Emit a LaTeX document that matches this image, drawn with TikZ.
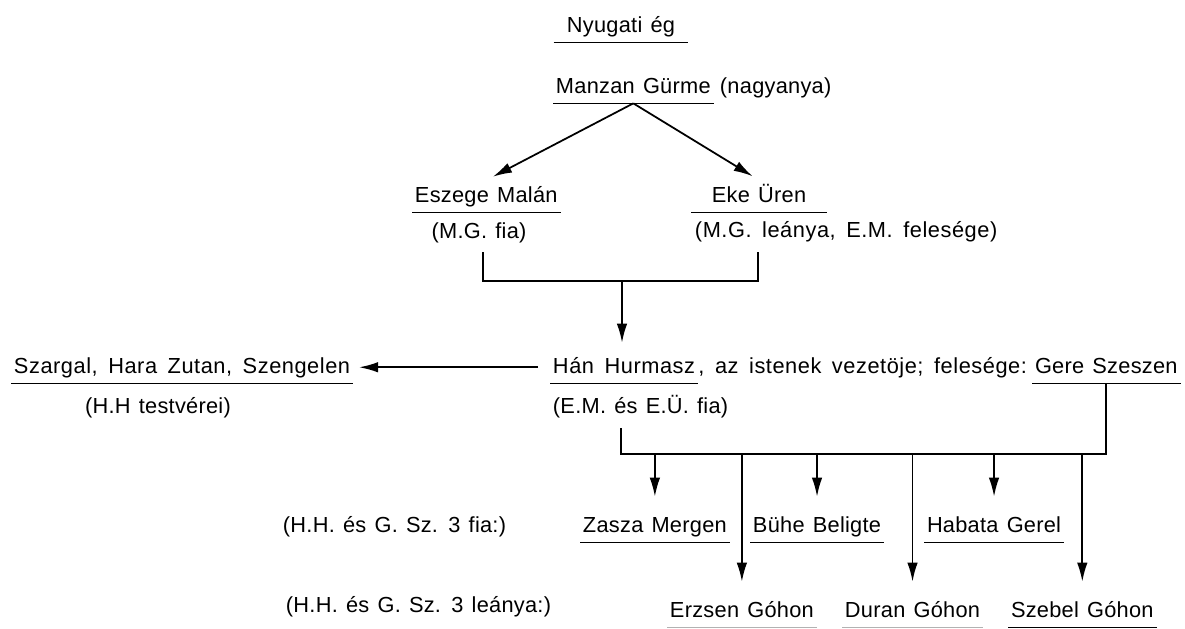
\documentclass[tikz,border=0pt]{standalone}
\usepackage{fontspec}
\setmainfont{Liberation Sans}[LetterSpace=1.2, WordSpace=1.3]
\newfontfamily\widefont{Liberation Sans}[LetterSpace=2.5, WordSpace=1.6]
\usetikzlibrary{arrows.meta, positioning}

\begin{document}
\begin{tikzpicture}[x=0.2mm, y=-0.2mm, every node/.style={font=\fontsize{12.4}{14}\selectfont, inner xsep=1.5pt, inner ysep=0.1cm, text height=0.33cm, text depth=0.1cm}]
\tikzstyle{person} = [anchor=base west]
\tikzstyle{wide} = [font=\widefont\fontsize{12.4}{14}\selectfont]
\tikzstyle{ul} = [line width=0.8pt]
\tikzstyle{link} = [line width=1pt]
\tikzstyle{arr} = [line width=1pt, -{Latex[length=3.8mm, width=2.1mm]}]

\useasboundingbox (0,0) rectangle (1185,628);

\node[anchor=base, minimum width=2.68cm] (sky) at (621,32) {Nyugati ég};
\node[person] (mg) at (553,93) {Manzan Gürme};
\node[person] (mgnote) at (717,93) {(nagyanya)};

\node[person] (em) at (412,202) {Eszege Malán};
\node[anchor=base] (emfia) at (479,238) {(M.G. fia)};
\node[anchor=base, minimum width=2.7cm] (eu) at (759,202) {Eke Üren};
\node[person, wide] (eufia) at (692,237) {(M.G. leánya, E.M. felesége)};

\node[person, wide] (hh) at (550,373) {Hán Hurmasz};
\node[base right=0pt of hh, inner xsep=0pt, wide] (hhmid) {, az istenek vezetöje; felesége:};
\node[person] (gs) at (1032,373) {Gere Szeszen};
\node[person] (hhfia) at (550,413) {(E.M. és E.Ü. fia)};

\node[person, wide] (sz) at (11,373) {Szargal, Hara Zutan, Szengelen};
\node[anchor=base] (szfia) at (158,413) {(H.H testvérei)};

\node[person] (sons) at (280,532) {(H.H. és G. Sz. 3 fia:)};
\node[person] (zm) at (580,532) {Zasza Mergen};
\node[person] (bb) at (750,532) {Bühe Beligte};
\node[person] (hg) at (924,532) {Habata Gerel};

\node[person] (daughters) at (283,612) {(H.H. és G. Sz. 3 leánya:)};
\node[person] (eg) at (667,617) {Erzsen Góhon};
\node[person] (dg) at (842,617) {Duran Góhon};
\node[person] (szg) at (1008,617) {Szebel Góhon};

\coordinate (jl) at (483,252);
\coordinate (jr) at (758,252);
\coordinate (jm) at (622,281);
\coordinate (kl) at (621,428);
\coordinate (kb) at (621,454);

\draw[ul] (sky.south west) -- (sky.south east);
\draw[ul] (mg.south west) -- (mg.south east);
\draw[ul] (em.south west) -- (em.south east);
\draw[ul] (eu.south west) -- (eu.south east);
\draw[ul] (hh.south west) -- (hh.south east);
\draw[ul] (gs.south west) -- (gs.south east);
\draw[ul] (sz.south west) -- (sz.south east);
\draw[ul] (zm.south west) -- (zm.south east);
\draw[ul] (bb.south west) -- (bb.south east);
\draw[ul] (hg.south west) -- (hg.south east);
\draw[ul, black!30] (eg.south west) -- (eg.south east);
\draw[ul, black!30] (dg.south west) -- (dg.south east);
\draw[ul] (szg.south west) -- (szg.south east);

\draw[arr, shorten >=1.5mm] (mg.south) -- (em.north);
\draw[arr, shorten >=1.5mm] (mg.south) -- (eu.north);

\draw[link] (jl) |- (jm) -| (jr);
\draw[arr, shorten >=1.7mm] (jm) -- (jm |- hh.north);

\draw[arr, shorten <=2.4mm, shorten >=1.2mm] (hh.west) -- (sz.east);

\draw[link] (kl) -- (kb) -| (gs.south);
\draw[arr, shorten >=2.7mm] (kb -| zm) -- (zm);
\draw[arr, shorten >=2.7mm] (kb -| bb) -- (bb);
\draw[arr, shorten >=2.7mm] (kb -| hg) -- (hg);
\draw[arr, shorten >=2.7mm] (kb -| eg) -- (eg);
\draw[arr, shorten >=2.7mm] (kb -| dg) -- (dg);
\draw[arr, shorten >=2.7mm] (kb -| szg) -- (szg);

\end{tikzpicture}
\end{document}
